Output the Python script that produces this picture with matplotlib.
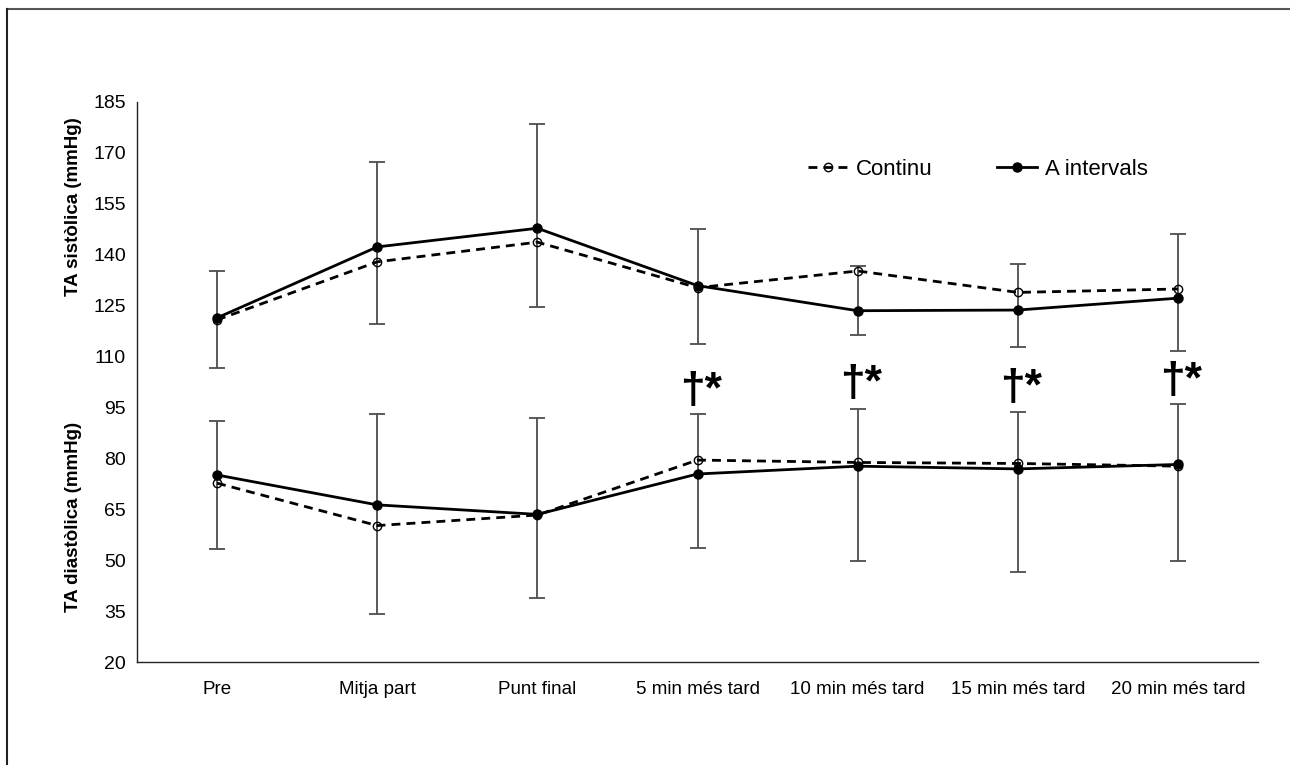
import matplotlib
matplotlib.use("Agg")
import matplotlib.pyplot as plt
from matplotlib.lines import Line2D
import numpy as np

plt.rcParams['font.family'] = ['Liberation Sans', 'DejaVu Sans']

categories = ["Pre", "Mitja part", "Punt final", "5 min més tard",
              "10 min més tard", "15 min més tard", "20 min més tard"]

# Systolic blood pressure (mmHg)
sys_continu = [120.8, 137.9, 143.7, 130.3, 135.2, 128.9, 129.9]
sys_intervals = [121.4, 142.3, 147.8, 130.9, 123.5, 123.7, 127.2]
sys_sd_low = [106.6, 119.7, 124.5, 113.6, 116.3, 112.8, 111.7]
sys_sd_high = [135.2, 167.4, 178.5, 147.6, 136.8, 137.4, 146.1]

# Diastolic blood pressure (mmHg)
dia_continu = [72.7, 60.2, 63.3, 79.5, 78.8, 78.5, 77.7]
dia_intervals = [75.1, 66.3, 63.5, 75.4, 77.7, 76.9, 78.2]
dia_sd_low = [53.3, 34.1, 38.8, 53.5, 49.8, 46.5, 49.8]
dia_sd_high = [91.1, 93.1, 92.0, 93.0, 94.5, 93.6, 95.9]

# significance markers
sig_labels = ["", "", "", "†*", "†*", "†*", "†*"]
sig_y = [0, 0, 0, 99.6, 101.7, 100.5, 102.6]

yticks = [20, 35, 50, 65, 80, 95, 110, 125, 140, 155, 170, 185]

fig = plt.figure(figsize=(12.9, 7.65), dpi=100)
ax = fig.add_axes([0.1062, 0.1346, 0.9752 - 0.1062, 0.8667 - 0.1346])

x = np.arange(len(categories))
err_color = "#4d4d4d"

for lo, hi in [(sys_sd_low, sys_sd_high), (dia_sd_low, dia_sd_high)]:
    lo = np.array(lo); hi = np.array(hi)
    ax.errorbar(x, (lo + hi) / 2, yerr=(hi - lo) / 2, fmt='none',
                ecolor=err_color, elinewidth=1.3, capsize=5.5, capthick=1.3, zorder=1)

line_kw_c = dict(color='black', linestyle=(0, (3.2, 2.2)), linewidth=2.0,
                 marker='o', markersize=6, markerfacecolor='none',
                 markeredgecolor='black', markeredgewidth=1.0, zorder=3)
line_kw_i = dict(color='black', linestyle='-', linewidth=2.0,
                 marker='o', markersize=6.5, markerfacecolor='black',
                 markeredgecolor='black', zorder=4)

l1, = ax.plot(x, sys_continu, label="Continu", **line_kw_c)
l2, = ax.plot(x, sys_intervals, label="A intervals", **line_kw_i)
ax.plot(x, dia_continu, **line_kw_c)
ax.plot(x, dia_intervals, **line_kw_i)

for xi, lab, yy in zip(x, sig_labels, sig_y):
    if lab:
        ax.text(xi + 0.02, yy, lab, ha='center', va='center', fontsize=32,
                fontweight='bold', color='black')

ax.set_xlim(-0.5, len(categories) - 0.5)
ax.set_ylim(20, 185)
ax.set_yticks(yticks)
ax.set_yticklabels([str(t) for t in yticks], fontsize=14)
ax.set_xticks(x)
ax.set_xticklabels(categories, fontsize=13.5)
ax.tick_params(axis='both', length=0)
ax.tick_params(axis='y', pad=8)
ax.tick_params(axis='x', pad=14)

for s in ['top', 'right']:
    ax.spines[s].set_visible(False)
for s in ['left', 'bottom']:
    ax.spines[s].set_linewidth(1.0)
    ax.spines[s].set_color('#222222')

fig.text(74 / 1290, 1 - 207 / 765, "TA sistòlica (mmHg)", rotation=90,
         ha='center', va='center', fontsize=13.5, fontweight='bold')
fig.text(74 / 1290, 1 - 517 / 765, "TA diastòlica (mmHg)", rotation=90,
         ha='center', va='center', fontsize=13.5, fontweight='bold')

ax.legend(handles=[l1, l2], loc='center', bbox_to_anchor=(0.750, 0.879),
          ncol=2, frameon=False, fontsize=16, handlelength=1.8,
          columnspacing=2.9, handletextpad=0.35)

# partial figure border
fig.add_artist(Line2D([7 / 1290, 1], [1 - 9 / 765, 1 - 9 / 765],
                      transform=fig.transFigure, color='#555555', lw=1.5))
fig.add_artist(Line2D([7 / 1290, 7 / 1290], [0, 1 - 9 / 765],
                      transform=fig.transFigure, color='#222222', lw=1.5))

fig.savefig("out.png", dpi=100)
